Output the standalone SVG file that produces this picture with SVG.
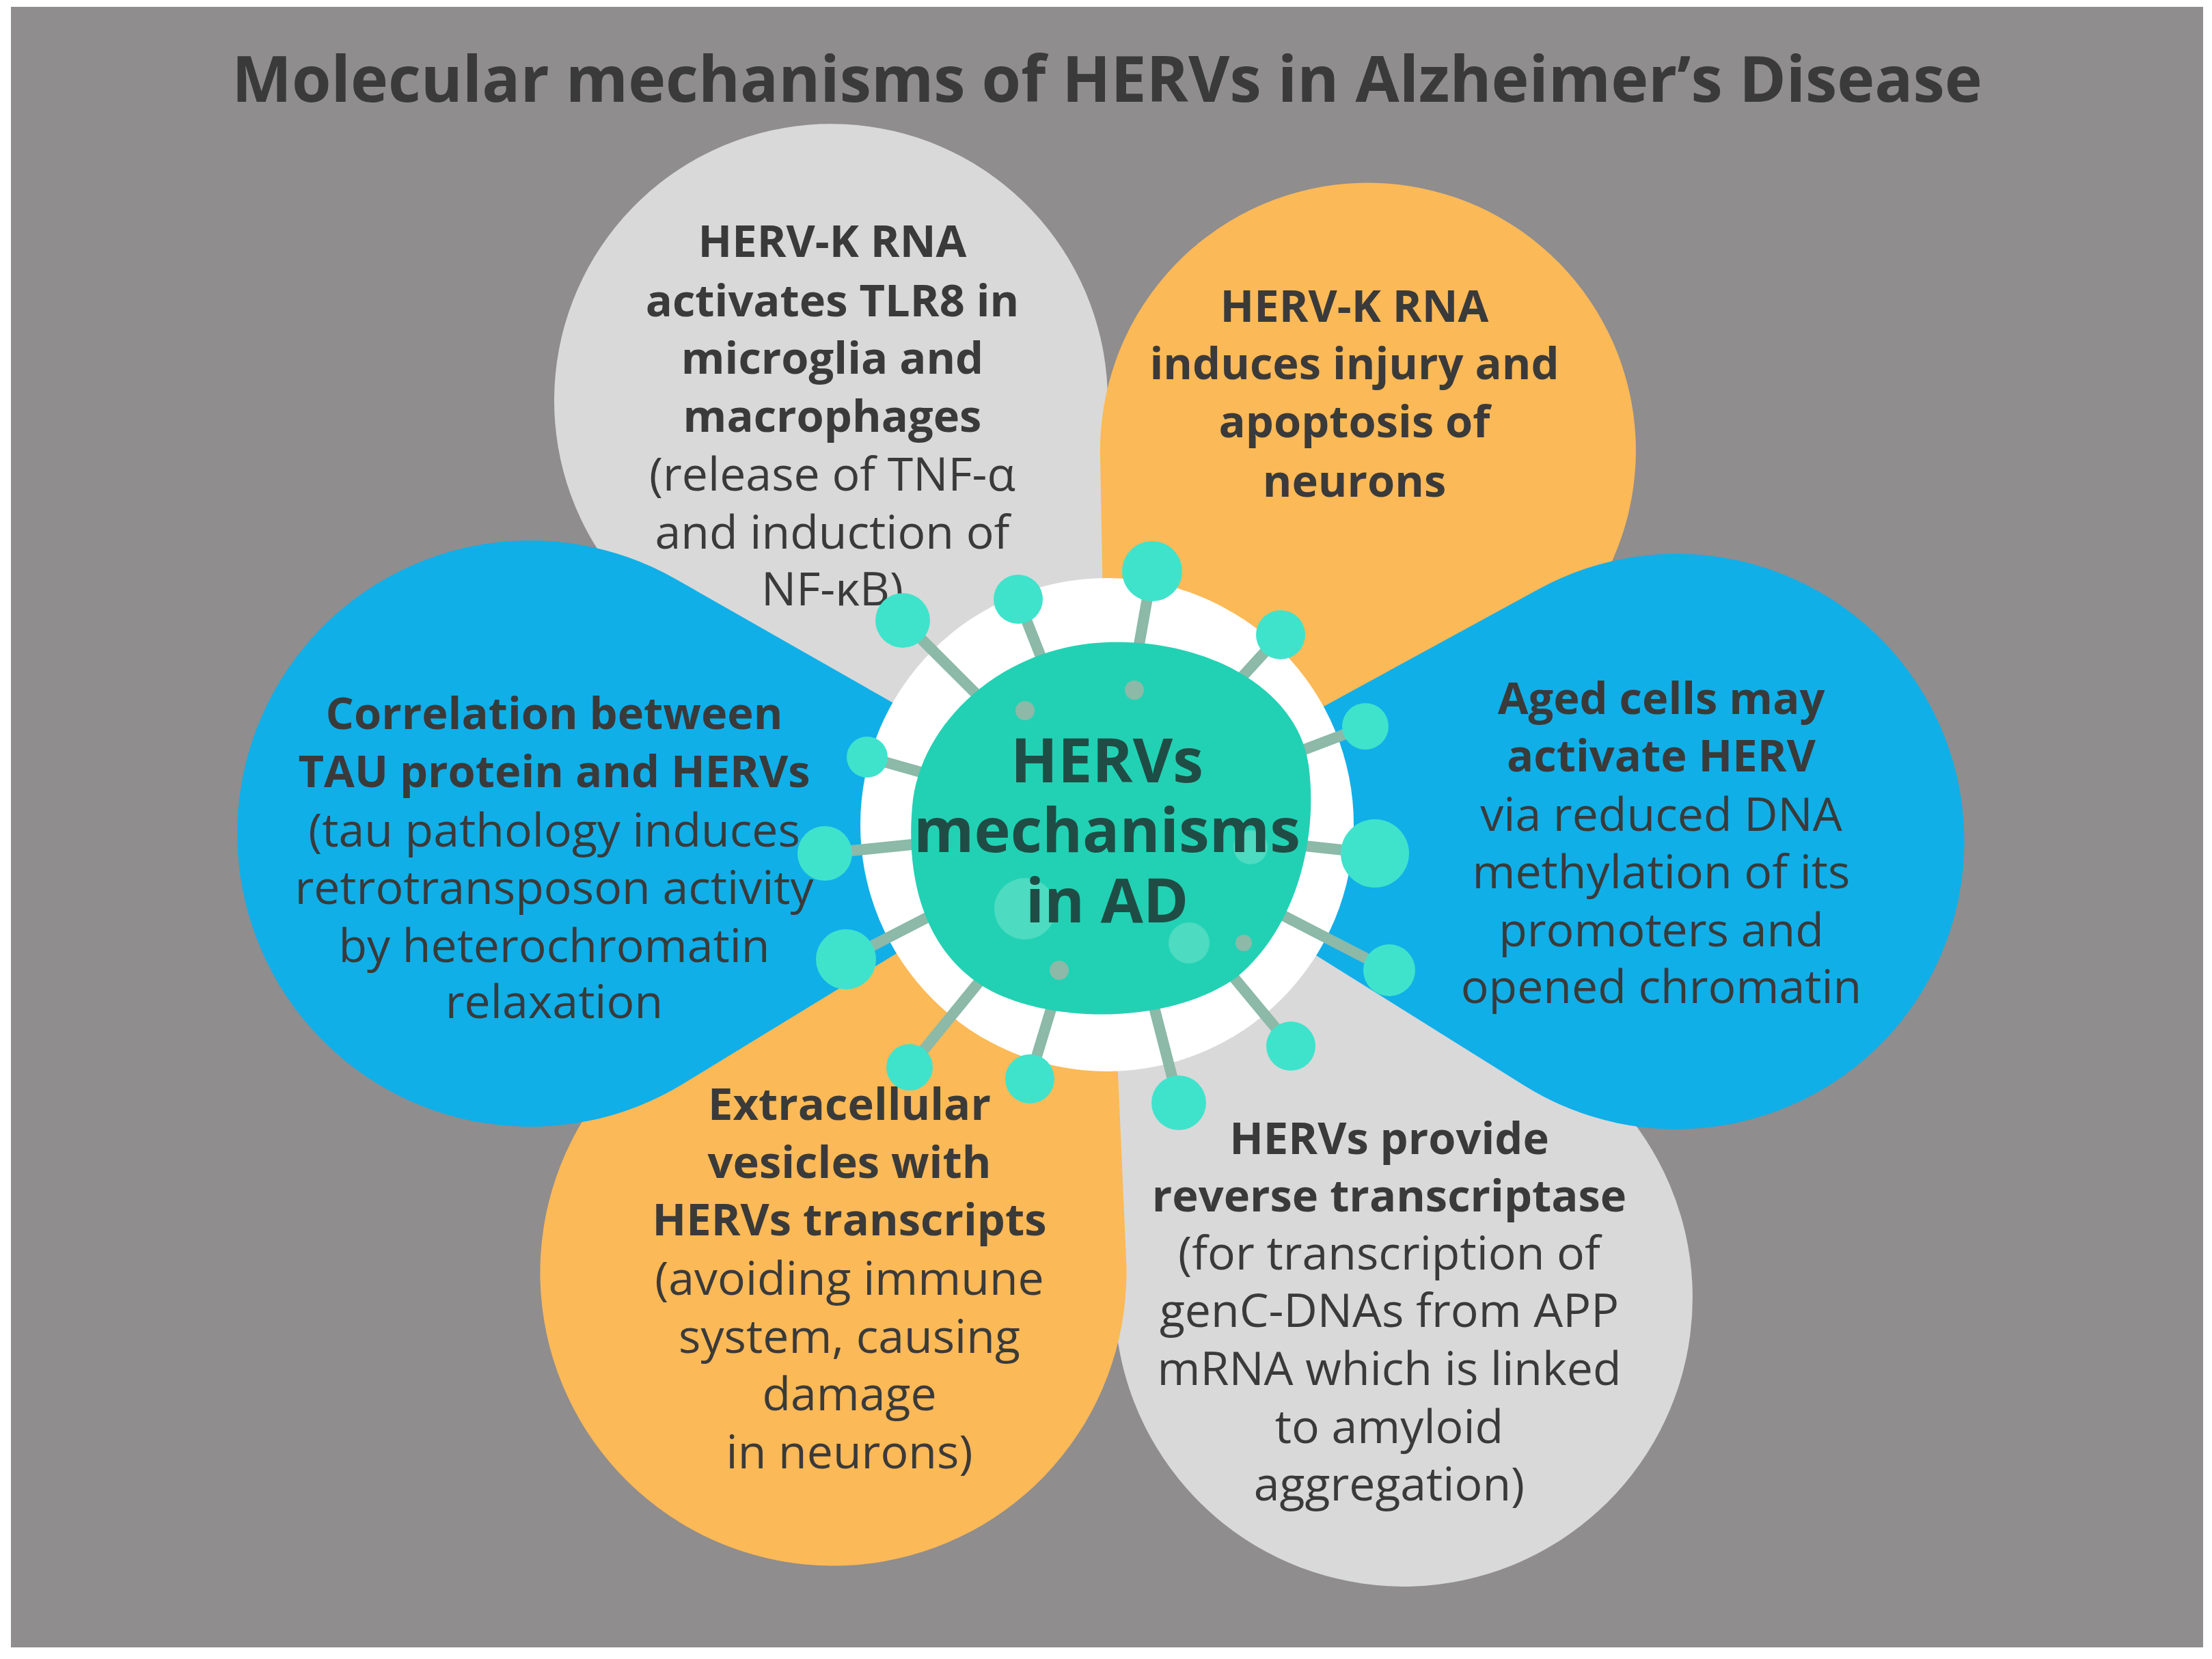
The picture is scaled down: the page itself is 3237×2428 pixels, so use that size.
<svg xmlns="http://www.w3.org/2000/svg" width="3237" height="2428" viewBox="0 0 3237 2428">
<style>
.t{font-family:"Open Sans","Liberation Sans",sans-serif;font-size:68px;fill:#3a3a3a;text-anchor:middle;dominant-baseline:central}
.b{font-weight:bold;font-size:65px}
.grey{fill:#d9d9d9}.orange{fill:#fbb957}.blue{fill:#10afe8}
.spk{stroke:#8cb9a8;stroke-width:16;stroke-linecap:round}
.ball{fill:#3fe3cb}
.spot{fill:#5fe0c8;opacity:.7}
</style>
<rect width="3237" height="2428" fill="#fff"/>
<rect x="16" y="10" width="3208" height="2401" fill="#8f8d8e"/>
<text x="1620" y="113" class="t b" style="font-size:93px" fill="#3a3a3a">Molecular mechanisms of HERVs in Alzheimer’s Disease</text>
<g id="petal-tl"><path class="grey" d="M1620,1207 L1621,587 A405 405 0 1 0 1053,957 Z"/>
<text class="t"><tspan x="1218" y="351" class="b">HERV-K RNA</tspan><tspan x="1218" y="438" class="b">activates TLR8 in</tspan><tspan x="1218" y="522" class="b">microglia and</tspan><tspan x="1218" y="607" class="b">macrophages</tspan><tspan x="1218" y="691">(release of TNF-α</tspan><tspan x="1218" y="776">and induction of</tspan><tspan x="1218" y="859">NF-κB)</tspan></text></g>
<g id="petal-tr"><path class="orange" d="M1620,1207 L2130,1030 A392 392 0 1 0 1610,668 Z"/>
<text class="t b"><tspan x="1982" y="446">HERV-K RNA</tspan><tspan x="1982" y="530">induces injury and</tspan><tspan x="1982" y="615">apoptosis of</tspan><tspan x="1982" y="702">neurons</tspan></text></g>
<g id="petal-br"><path class="grey" d="M1620,1207 L2244,1521 A423 423 0 1 1 1631,1906 Z"/>
<text class="t"><tspan x="2033" y="1664" class="b">HERVs provide</tspan><tspan x="2033" y="1748" class="b">reverse transcriptase</tspan><tspan x="2033" y="1831">(for transcription of</tspan><tspan x="2033" y="1915">genC-DNAs from APP</tspan><tspan x="2033" y="2000">mRNA which is linked</tspan><tspan x="2033" y="2085">to amyloid</tspan><tspan x="2033" y="2169">aggregation)</tspan></text></g>
<g id="petal-bl"><path class="orange" d="M1620,1207 L1648,1843 A429 429 0 1 1 1042,1472 Z"/>
<text class="t"><tspan x="1243" y="1614" class="b">Extracellular</tspan><tspan x="1243" y="1699" class="b">vesicles with</tspan><tspan x="1243" y="1783" class="b">HERVs transcripts</tspan><tspan x="1243" y="1868">(avoiding immune</tspan><tspan x="1243" y="1953">system, causing</tspan><tspan x="1243" y="2037">damage</tspan><tspan x="1243" y="2122">in neurons)</tspan></text></g>
<g id="petal-l"><path class="blue" d="M1620,1207 L1000,1586 A429 429 0 1 1 988,847 Z"/>
<text class="t"><tspan x="811" y="1042" class="b">Correlation between</tspan><tspan x="811" y="1127" class="b">TAU protein and HERVs</tspan><tspan x="811" y="1212">(tau pathology induces</tspan><tspan x="811" y="1296">retrotransposon activity</tspan><tspan x="811" y="1381">by heterochromatin</tspan><tspan x="811" y="1463">relaxation</tspan></text></g>
<g id="petal-r"><path class="blue" d="M1620,1207 L2252,862 A421 421 0 1 1 2231,1589 Z"/>
<text class="t"><tspan x="2431" y="1020" class="b">Aged cells may</tspan><tspan x="2431" y="1104" class="b">activate HERV</tspan><tspan x="2431" y="1189">via reduced DNA</tspan><tspan x="2431" y="1273">methylation of its</tspan><tspan x="2431" y="1358">promoters and</tspan><tspan x="2431" y="1441">opened chromatin</tspan></text></g>
<g id="center">
<circle cx="1620" cy="1207" r="361" fill="#fff"/>
<g id="connectors">
<line class="spk" x1="1620" y1="1207" x2="1321" y2="908"/><line class="spk" x1="1620" y1="1207" x2="1490" y2="877"/><line class="spk" x1="1620" y1="1207" x2="1686" y2="836"/><line class="spk" x1="1620" y1="1207" x2="1874" y2="929"/><line class="spk" x1="1620" y1="1207" x2="1998" y2="1063"/><line class="spk" x1="1620" y1="1207" x2="2012" y2="1249"/><line class="spk" x1="1620" y1="1207" x2="2033" y2="1420"/><line class="spk" x1="1620" y1="1207" x2="1889" y2="1531"/><line class="spk" x1="1620" y1="1207" x2="1725" y2="1614"/><line class="spk" x1="1620" y1="1207" x2="1507" y2="1579"/><line class="spk" x1="1620" y1="1207" x2="1331" y2="1562"/><line class="spk" x1="1620" y1="1207" x2="1238" y2="1404"/><line class="spk" x1="1620" y1="1207" x2="1207" y2="1249"/><line class="spk" x1="1620" y1="1207" x2="1269" y2="1108"/>
</g>
<path d="M1620,940 C1770,935 1900,1010 1915,1120 C1930,1230 1895,1360 1810,1430 C1720,1495 1560,1500 1460,1455 C1355,1405 1325,1290 1335,1180 C1345,1060 1465,945 1620,940 Z" fill="#22d1b3"/>
<circle class="spot" cx="1500" cy="1330" r="45"/><circle class="spot" cx="1740" cy="1380" r="30"/><circle class="spot" cx="1830" cy="1240" r="25"/><circle cx="1500" cy="1040" r="14" fill="#8cb9a8"/><circle cx="1660" cy="1010" r="14" fill="#8cb9a8"/><circle cx="1820" cy="1380" r="12" fill="#8cb9a8"/><circle cx="1550" cy="1420" r="14" fill="#8cb9a8"/>
<circle class="ball" cx="1321" cy="908" r="40"/><circle class="ball" cx="1490" cy="877" r="36"/><circle class="ball" cx="1686" cy="836" r="44"/><circle class="ball" cx="1874" cy="929" r="36"/><circle class="ball" cx="1998" cy="1063" r="34"/><circle class="ball" cx="2012" cy="1249" r="50"/><circle class="ball" cx="2033" cy="1420" r="38"/><circle class="ball" cx="1889" cy="1531" r="36"/><circle class="ball" cx="1725" cy="1614" r="40"/><circle class="ball" cx="1507" cy="1579" r="36"/><circle class="ball" cx="1331" cy="1562" r="34"/><circle class="ball" cx="1238" cy="1404" r="44"/><circle class="ball" cx="1207" cy="1249" r="40"/><circle class="ball" cx="1269" cy="1108" r="30"/>
<text class="t b" style="font-size:90px;fill:#1f4d45"><tspan x="1620" y="1110">HERVs</tspan><tspan x="1620" y="1212">mechanisms</tspan><tspan x="1620" y="1315">in AD</tspan></text>
</g>
</svg>
